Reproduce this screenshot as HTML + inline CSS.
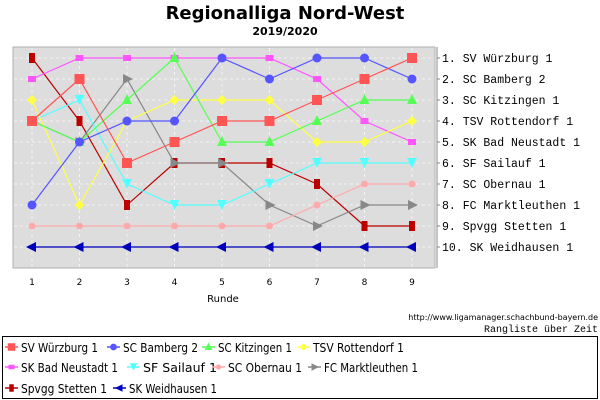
<!DOCTYPE html>
<html><head><meta charset="utf-8"><style>
body{margin:0;background:#fff;width:600px;height:400px;overflow:hidden}
svg{display:block;font-family:"DejaVu Sans","Liberation Sans",sans-serif}
</style></head><body>
<svg id="c" width="600" height="400">
<text x="285" y="19" text-anchor="middle" font-size="18" font-weight="bold">Regionalliga Nord-West</text>
<text x="285" y="35" text-anchor="middle" font-size="11" font-weight="bold">2019/2020</text>
<rect x="13" y="47" width="422" height="221" fill="#dddddd" stroke="#b0b0b0"/>
<g id="grid"></g><g id="series"></g><g id="axes"></g>
<text x="223" y="302" text-anchor="middle" font-size="10">Runde</text>
<text x="598" y="320" text-anchor="end" font-size="8">http://www.ligamanager.schachbund-bayern.de</text>
<text x="598" y="332" text-anchor="end" font-size="10" font-family="Liberation Mono, monospace">Rangliste über Zeit</text>
<rect x="2.5" y="336.5" width="595" height="62" fill="#fff" stroke="#000"/>
<g id="legend"></g>
</svg>
<script>
const rounds=[1,2,3,4,5,6,7,8,9];
const teams=["SV Würzburg 1","SC Bamberg 2","SC Kitzingen 1","TSV Rottendorf 1","SK Bad Neustadt 1","SF Sailauf 1","SC Obernau 1","FC Marktleuthen 1","Spvgg Stetten 1","SK Weidhausen 1"];
const rWuerzburg=[4,2,6,5,4,4,3,2,1];
const rBamberg=[8,5,4,4,1,2,1,1,2];
const rKitzingen=[4,5,3,1,5,5,4,3,3];
const rRottendorf=[3,8,4,3,3,3,5,5,4];
const rNeustadt=[2,1,1,1,1,1,2,4,5];
const rSailauf=[4,3,7,8,8,7,6,6,6];
const rObernau=[9,9,9,9,9,9,8,7,7];
const rMarktleuthen=[4,5,2,6,6,8,9,8,8];
const rStetten=[1,4,8,6,6,6,7,9,9];
const rWeidhausen=[10,10,10,10,10,10,10,10,10];
const finalRanking=["SV Würzburg 1","SC Bamberg 2","SC Kitzingen 1","TSV Rottendorf 1","SK Bad Neustadt 1","SF Sailauf 1","SC Obernau 1","FC Marktleuthen 1","Spvgg Stetten 1","SK Weidhausen 1"];
const allRanks=[rWuerzburg,rBamberg,rKitzingen,rRottendorf,rNeustadt,rSailauf,rObernau,rMarktleuthen,rStetten,rWeidhausen];
const colors=["#ff5555","#5555ff","#55ff55","#ffff44","#ff55ff","#55ffff","#ffaaaa","#888888","#bb0000","#0000bb"];
const shapes=["square","circle","up","diamond","bar","down","dot","right","tall","left"];
const NS="http://www.w3.org/2000/svg";
const X=r=>32+(r-1)*47.5;
const Y=k=>58+(k-1)*21;
function mk(t,a,p){const e=document.createElementNS(NS,t);for(const k in a)e.setAttribute(k,a[k]);p.appendChild(e);return e;}
const grid=document.getElementById('grid'),axes=document.getElementById('axes'),ser=document.getElementById('series'),leg=document.getElementById('legend');
for(let k=1;k<=10;k++){const l=mk('line',{x1:14,x2:434,y1:Y(k),y2:Y(k),stroke:'#f4f4f4','stroke-dasharray':'3,3'},grid);

}
rounds.forEach(r=>{const l=mk('line',{x1:X(r),x2:X(r),y1:48,y2:267,stroke:'#f4f4f4','stroke-dasharray':'3,3'},grid);


const t=mk('text',{x:X(r),y:285,'text-anchor':'middle','font-size':9},axes);t.textContent=r;

});
mk('line',{x1:437,x2:437,y1:47,y2:268,stroke:'#888'},axes);
finalRanking.forEach((n,i)=>{mk('line',{x1:437,x2:440,y1:Y(i+1),y2:Y(i+1),stroke:'#888'},axes);
const t=mk('text',{x:442,y:Y(i+1)+4,'font-size':11.5,'font-family':'Liberation Mono, monospace','xml:space':'preserve'},axes);
t.textContent=(i<9?' ':'')+(i+1)+'. '+n;

});
function marker(s,x,y,c,p,sc){sc=sc||1;let e;const d=v=>v*sc;
if(s=='square')e=mk('rect',{x:x-d(5),y:y-d(5),width:d(10),height:d(10),fill:c},p);
else if(s=='circle')e=mk('circle',{cx:x,cy:y,r:d(4.5),fill:c},p);
else if(s=='dot')e=mk('circle',{cx:x,cy:y,r:d(3.5),fill:c},p);
else if(s=='up')e=mk('polygon',{points:`${x},${y-d(6)} ${x+d(5)},${y+d(4)} ${x-d(5)},${y+d(4)}`,fill:c},p);
else if(s=='down')e=mk('polygon',{points:`${x},${y+d(5)} ${x+d(5)},${y-d(5)} ${x-d(5)},${y-d(5)}`,fill:c},p);
else if(s=='right')e=mk('polygon',{points:`${x+d(6)},${y} ${x-d(4)},${y-d(5)} ${x-d(4)},${y+d(5)}`,fill:c},p);
else if(s=='left')e=mk('polygon',{points:`${x-d(6)},${y} ${x+d(4)},${y-d(5)} ${x+d(4)},${y+d(5)}`,fill:c},p);
else if(s=='diamond')e=mk('polygon',{points:`${x},${y-d(5)} ${x+d(5)},${y} ${x},${y+d(5)} ${x-d(5)},${y}`,fill:c},p);
else if(s=='bar')e=mk('rect',{x:x-d(4),y:y-d(3),width:d(8),height:d(6),fill:c},p);
else e=mk('rect',{x:x-d(3),y:y-d(5),width:d(6),height:d(10),fill:c},p);
return e;}
for(let i=allRanks.length-1;i>=0;i--){const arr=allRanks[i];const g=mk('g',{},ser);


const pl=mk('polyline',{points:arr.map((k,j)=>X(rounds[j])+','+Y(k)).join(' '),fill:'none',stroke:colors[i],'stroke-width':1.2},g);


arr.forEach((k,j)=>{const m=marker(shapes[i],X(rounds[j]),Y(k),colors[i],g);

});}
const legPos=[[5,347],[107,347],[202,347],[297,347],[5,367],[127,367],[212,367],[308,367],[5,388],[113,388]];
const legW=[77,75,74,91,97,74,74,94,86,88];
teams.forEach((n,i)=>{const lx=legPos[i][0],ly=legPos[i][1];
const g=mk('g',{},leg);


mk('line',{x1:lx,x2:lx+13,y1:ly,y2:ly,stroke:colors[i],'stroke-width':1.5},g);
marker(shapes[i],lx+6.5,ly,colors[i],g,0.75);
const t=mk('text',{x:lx+16,y:ly+5,'font-size':12.5,textLength:legW[i],lengthAdjust:'spacingAndGlyphs'},g);t.textContent=n;});
</script>
</body></html>
